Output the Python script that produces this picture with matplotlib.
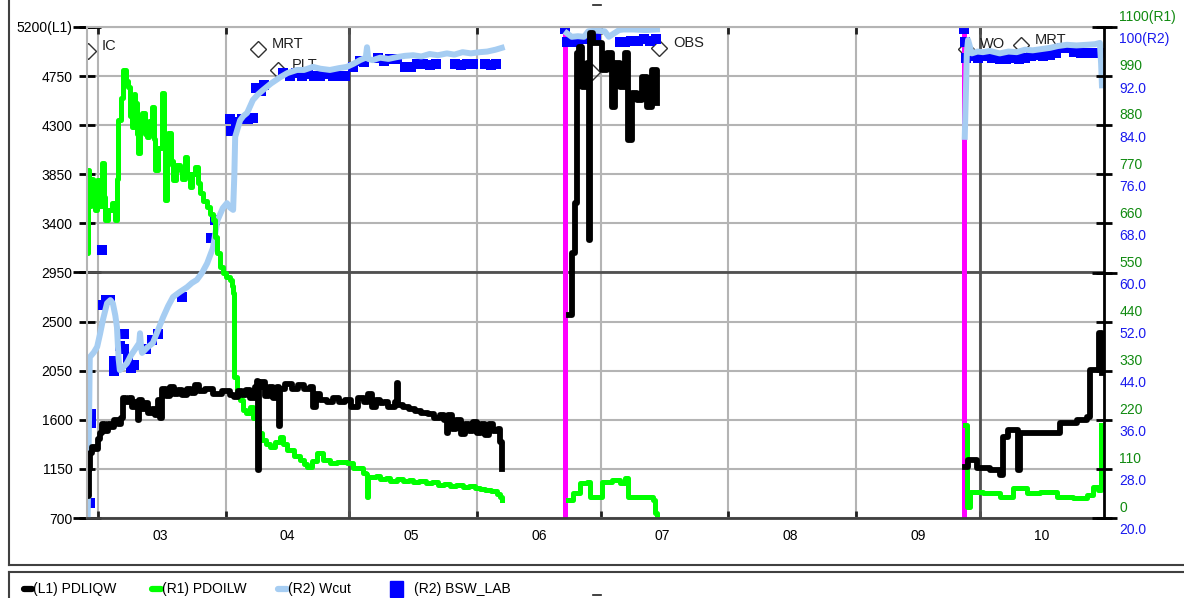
'''
Well history: PDLIQW / PDOILW / Wcut / BSW_LAB on three y scales
'''

import numpy as np
import pandas as pd
import matplotlib
matplotlib.use('Agg')
from matplotlib import pyplot as plt
from matplotlib import dates as mdates
from matplotlib import ticker
from matplotlib.lines import Line2D
from matplotlib.patches import Rectangle
from matplotlib.transforms import blended_transform_factory

W, H = 1184, 598
START = pd.Timestamp('2009-03-01')   # all "days" below count from 01 March
X_FROM, X_TO = -2.67, 244.2

# (L1) PDLIQW, one list per producing period
liq_days = [
    [-2.6, -2.3, -2.0, -1.5, -0.8, 0.0, 0.5, 1.0, 1.8, 2.5, 3.2, 4.0, 4.8, 5.5, 6.0,
     6.8, 7.5, 8.2, 9.0, 9.6, 10.0, 10.8, 11.5, 12.2, 13.0, 13.8, 14.5, 15.0, 15.6,
     16.5, 17.5, 18.5, 19.5, 20.5, 21.5, 22.5, 23.5, 24.5, 26.0, 28.0, 30.0, 32.0,
     33.0, 34.0, 35.0, 36.0, 37.0, 38.0, 38.6, 38.8, 39.0, 39.6, 40.5, 41.5, 42.5,
     43.5, 44.0, 44.3, 45.5, 47.0, 48.5, 50.0, 51.5, 52.3, 52.8, 54.0, 55.5, 57.0,
     58.5, 60.0, 61.5, 63.0, 64.5, 65.5, 66.5, 67.5, 68.4, 69.5, 70.5, 72.0, 72.6,
     72.9, 74.0, 75.5, 77.0, 78.5, 80.0, 81.5, 83.0, 84.0, 84.6, 85.0, 86.0, 87.0,
     88.0, 89.0, 90.0, 91.0, 92.0, 93.0, 94.0, 95.0, 96.0, 97.2, 97.6, 98.0],
    [114.3, 115.0, 115.8, 116.3, 116.7, 117.5, 118.7, 119.2, 119.4, 120.1, 122.3,
     123.5, 124.8, 125.5, 126.7, 127.9, 128.6, 129.6, 130.8, 132.0, 133.3, 134.5,
     135.7],
    [210.4, 211.2, 213.3, 216.5, 218.9, 219.7, 220.9, 222.6, 223.3, 223.8, 226.9,
     231.1, 233.5, 237.6, 240.0, 240.8, 242.5, 243.0, 243.7, 243.8],
]
liq_vals = [
    [900, 1150, 1300, 1350, 1330, 1420, 1480, 1560, 1500, 1560, 1530, 1600, 1560,
     1620, 1800, 1760, 1800, 1720, 1760, 1600, 1780, 1700, 1750, 1660, 1700, 1640,
     1780, 1620, 1880, 1820, 1900, 1840, 1870, 1830, 1880, 1850, 1920, 1860, 1880,
     1840, 1860, 1830, 1810, 1860, 1830, 1870, 1800, 1900, 1960, 1140, 1900, 1950,
     1820, 1900, 1800, 1900, 1540, 1880, 1930, 1880, 1920, 1880, 1900, 1720, 1840,
     1780, 1760, 1800, 1760, 1780, 1720, 1800, 1760, 1840, 1720, 1780, 1750, 1760,
     1720, 1760, 1940, 1740, 1720, 1700, 1680, 1660, 1650, 1620, 1640, 1600, 1480,
     1640, 1520, 1600, 1470, 1560, 1500, 1580, 1480, 1560, 1460, 1560, 1500, 1520,
     1400, 1150],
    [2560, 3130, 3587, 4962, 5017, 4650, 4870, 3248, 5145, 5053, 4806, 4962, 4467,
     4870, 4650, 4962, 4164, 4595, 4531, 4742, 4467, 4806, 4500],
    [1167, 1232, 1158, 1140, 1094, 1442, 1506, 1506, 1140, 1479, 1479, 1479, 1570,
     1598, 1626, 2056, 2056, 2396, 2396, 2029],
]

# (R1) PDOILW
oil_days = [
    [-2.7, -2.5, -2.1, -1.6, -1.2, -0.8, -0.2, 0.3, 1.0, 1.4, 1.7, 2.5, 3.4, 4.1,
     4.5, 4.9, 5.5, 6.1, 6.7, 7.3, 7.8, 8.3, 8.7, 9.0, 9.4, 9.7, 10.2, 10.7, 11.3,
     11.9, 12.5, 13.1, 13.5, 13.8, 14.5, 15.5, 15.9, 16.3, 16.7, 17.0, 17.6, 18.2,
     19.0, 19.9, 20.5, 21.1, 21.7, 22.3, 22.9, 23.5, 24.2, 24.8, 25.6, 26.5, 27.2,
     27.9, 28.4, 28.9, 29.6, 30.3, 31.0, 32.0, 32.5, 32.8, 32.9, 33.7, 34.4, 35.2,
     36.0, 36.9, 37.7, 38.6, 39.2, 39.8, 40.7, 41.7, 43.0, 44.2, 45.0, 45.9, 47.5,
     49.0, 50.0, 50.7, 52.0, 53.2, 54.5, 56.3, 58.0, 60.4, 62.0, 64.3, 65.0, 65.3,
     65.6, 66.0, 67.5, 68.5, 70.0, 71.0, 72.6, 74.0, 75.5, 76.5, 78.0, 79.5, 81.0,
     82.5, 84.0, 85.5, 87.0, 88.5, 90.0, 91.5, 92.7, 94.0, 95.5, 96.8, 97.6, 98.0],
    [114.1, 115.3, 117.0, 118.7, 119.4, 121.4, 122.3, 124.8, 126.7, 127.9, 128.6,
     131.6, 134.7, 135.2, 135.7],
    [210.4, 210.9, 211.7, 214.8, 218.9, 222.1, 225.5, 228.6, 232.8, 236.7, 240.0,
     241.5, 242.7, 243.4, 243.5],
]
oil_vals = [
    [594, 780, 700, 760, 728, 690, 757, 700, 795, 720, 667, 690, 706, 667, 760, 892,
     940, 1004, 980, 966, 900, 876, 950, 930, 860, 818, 880, 907, 860, 853, 890, 921,
     850, 780, 830, 952, 850, 712, 790, 862, 800, 757, 790, 780, 760, 809, 770, 742,
     770, 786, 750, 728, 710, 697, 680, 667, 630, 594, 562, 549, 540, 533, 520, 504,
     316, 280, 265, 242, 235, 249, 225, 204, 190, 175, 165, 159, 170, 181, 165, 152,
     140, 130, 122, 114, 128, 146, 130, 123, 126, 123, 112, 101, 98, 47, 92, 92, 95,
     88, 90, 84, 88, 82, 86, 81, 83, 78, 80, 75, 77, 72, 74, 70, 71, 67, 65, 62, 60,
     54, 48, 40],
    [40, 56, 78, 81, 47, 47, 81, 85, 78, 90, 47, 47, 40, 11, 0],
    [208, 25, 58, 56, 47, 67, 56, 58, 47, 45, 52, 69, 63, 69, 208],
]

# (R2) Wcut
wcut_days = [
    [-2.5, -2.3, -2.1, -2.0, -1.0, -0.2, 0.5, 1.2, 2.2, 3.0, 3.6, 4.2, 4.6, 5.0, 5.3,
     6.0, 7.0, 8.0, 9.0, 10.0, 10.2, 10.5, 10.7, 12.0, 13.3, 14.5, 15.8, 17.0, 18.2,
     19.8, 21.6, 22.8, 24.0, 25.3, 26.5, 27.9, 29.0, 30.3, 31.3, 32.0, 32.8, 33.1,
     33.3, 34.5, 35.3, 36.2, 37.6, 38.8, 40.0, 42.0, 44.2, 46.0, 48.3, 50.0, 52.2,
     54.0, 56.3, 58.5, 60.4, 62.0, 63.6, 65.0, 65.3, 65.6, 66.7, 68.5, 70.5, 72.6,
     74.5, 76.5, 78.5, 80.5, 82.5, 84.7, 86.5, 88.5, 90.5, 92.7, 94.5, 96.5, 98.0],
    [113.8, 115.0, 116.5, 118.0, 119.0, 121.0, 123.0, 124.0, 126.5, 127.5, 130.0,
     133.0, 135.7],
    [210.4, 210.7, 210.9, 211.2, 212.1, 213.5, 214.8, 216.5, 218.9, 221.0, 223.0,
     225.0, 226.9, 229.0, 231.1, 233.0, 235.2, 237.5, 240.0, 242.0, 243.2, 243.5,
     243.7],
]
wcut_vals = [
    [20.5, 30, 40, 46.2, 47.0, 47.9, 50, 52.3, 55.0, 55.5, 55.0, 53, 51.1, 46, 44.1,
     44.5, 45.2, 46.5, 47.5, 48.5, 50.1, 47.5, 46.9, 47.8, 48.5, 50.5, 52.7, 54.5,
     56.0, 56.8, 57.6, 58.3, 58.8, 60.0, 61.5, 64.0, 68.5, 70.5, 71.3, 70.6, 70.2,
     76, 82.1, 84.8, 85.5, 86.0, 88.1, 89.0, 89.7, 90.8, 91.8, 92.5, 93.0, 93.0,
     93.5, 93.2, 93.0, 93.3, 93.5, 94.0, 94.6, 95.0, 96.7, 94.8, 94.6, 95.0, 94.8,
     95.1, 95.3, 95.4, 95.2, 95.6, 95.4, 95.7, 95.5, 95.9, 95.7, 95.9, 96.0, 96.3,
     96.6],
    [99.0, 98.4, 98.5, 98.4, 99.3, 99.4, 99.3, 98.4, 99.5, 99.6, 99.6, 99.5, 99.6],
    [82.1, 90, 95.8, 97.9, 95.7, 96.0, 95.9, 96.1, 95.7, 96.0, 95.9, 96.3, 96.2,
     96.4, 96.6, 96.9, 97.1, 97.0, 97.1, 97.2, 97.4, 94, 90.5],
]

# (R2) BSW_LAB lab samples
bsw_days = [
    [-1.9, -1.7, -1.7, 1.0, 1.2, 1.9, 2.9, 3.9, 3.9, 5.3, 6.3, 6.3, 7.3, 8.0, 8.8,
     11.7, 13.1, 14.6, 20.4, 27.4, 28.4, 32.0, 32.2, 33.5, 35.0, 36.4, 37.6, 38.3,
     39.6, 40.2, 45.0, 46.5, 48.0, 49.5, 51.0, 52.5, 54.0, 55.5, 57.0, 58.5, 60.0,
     62.0, 63.5, 64.5, 68.0, 69.5, 71.0, 72.5, 74.5, 76.0, 77.5, 79.0, 80.5, 82.0,
     86.7, 88.0, 89.5, 91.0, 94.0, 95.5, 96.5],
    [113.4, 113.8, 115.0, 116.5, 118.0, 119.5, 121.0, 126.7, 128.0, 129.5, 131.0,
     132.5, 134.0, 135.5],
    [210.2, 210.5, 210.6, 212.0, 213.5, 215.0, 217.0, 219.0, 220.5, 222.0, 223.5,
     225.0, 226.5, 228.0, 229.5, 231.0, 232.5, 234.0, 235.5, 237.0, 238.5, 240.0,
     241.5, 243.0],
]
bsw_vals = [
    [22.4, 35.5, 37, 63.7, 54.7, 55.5, 55.5, 45.5, 44, 48, 50, 47.5, 46, 44.5, 45,
     47.5, 49, 50, 56, 65.7, 68.5, 85, 83, 84.5, 85, 85, 85.2, 90, 89.5, 90.5, 92.5,
     92.0, 92.5, 92.0, 92.3, 92.0, 92.0, 92.3, 92.0, 92.0, 92.0, 93.5, 94.5, 94.3,
     95.0, 94.5, 94.8, 94.8, 93.5, 93.5, 94.0, 94.0, 93.8, 94.0, 94.0, 93.8, 94.0,
     94.0, 94.0, 93.8, 94.0],
    [99.6, 97.5, 97.5, 97.8, 98.0, 98.0, 98.5, 97.5, 97.5, 97.8, 97.8, 98.0, 97.8,
     98.0],
    [99.6, 97.5, 95.0, 95.3, 95.0, 95.2, 95.0, 94.8, 94.8, 95.0, 94.8, 95.0, 95.3,
     95.5, 95.3, 95.5, 95.8, 96.5, 96.5, 96.0, 95.8, 95.8, 95.8, 95.8],
]

# well status change lines
status_days = [113.3, 210.1]

# event flags (day, L1 height, name)
event_days = [-2.5, 38.8, 43.7, 119.9, 136.2, 210.7, 224.0]
event_y = [4980, 4998, 4806, 4788, 5008, 4998, 5035]
event_names = ['IC', 'MRT', 'PLT', 'PLT', 'OBS', 'WO', 'MRT']

l1_ticks = [700, 1150, 1600, 2050, 2500, 2950, 3400, 3850, 4300, 4750, 5200]
l1_labels = ['700', '1150', '1600', '2050', '2500', '2950', '3400', '3850',
             '4300', '4750', '5200(L1)']
r1_ticks = [0, 110, 220, 330, 440, 550, 660, 770, 880, 990, 1100]
r1_labels = ['0', '110', '220', '330', '440', '550', '660', '770', '880', '990',
             '1100(R1)']
r2_ticks = [20, 28, 36, 44, 52, 60, 68, 76, 84, 92, 100]
r2_labels = ['20.0', '28.0', '36.0', '44.0', '52.0', '60.0', '68.0', '76.0',
             '84.0', '92.0', '100(R2)']

legend_names = ['(L1) PDLIQW', '(R1) PDOILW', '(R2) Wcut', '(R2) BSW_LAB']

GRID = '#b4b4b4'
DARK = '#505050'


def to_dates(days):
    return START + pd.to_timedelta(np.asarray(days, dtype=float), unit='D')


def fpos(x, y):
    # pixel position (from top-left) to figure fraction
    return x / W, 1 - y / H


def fig_line(fig, xs, ys, **kw):
    pts = [fpos(x, y) for x, y in zip(xs, ys)]
    fig.add_artist(Line2D([p[0] for p in pts], [p[1] for p in pts],
                          transform=fig.transFigure, **kw))


def setup_axes(fig):
    x0, y0 = fpos(87, 518)
    x1, y1 = fpos(1104, 27)
    ax = fig.add_axes([x0, y0, x1 - x0, y1 - y0])
    ax_r1 = ax.twinx()
    ax_r2 = ax.twinx()

    ax.set_xlim(START + pd.Timedelta(days=X_FROM), START + pd.Timedelta(days=X_TO))
    ax.xaxis.set_major_locator(mdates.MonthLocator())
    ax.xaxis.set_major_formatter(ticker.NullFormatter())
    ax.xaxis.set_minor_locator(mdates.MonthLocator(bymonthday=16))
    ax.xaxis.set_minor_formatter(mdates.DateFormatter('%m'))
    ax.tick_params(axis='x', which='major', direction='in', length=5, width=2,
                   color='#202020', top=True, bottom=True)
    ax.tick_params(axis='x', which='minor', length=0, pad=8, labelsize=10)

    ax.set_ylim(700, 5200)
    ax.set_yticks(l1_ticks)
    ax.set_yticklabels(l1_labels)
    ax.set_yticks([700, 2950, 5200], minor=True)
    ax.yaxis.remove_overlapping_locs = False
    ax.tick_params(axis='y', which='major', direction='inout', length=11, width=2,
                   color='black', pad=5, labelsize=10)
    ax.tick_params(axis='y', which='minor', direction='inout', length=20, width=2,
                   color='black')
    ax.grid(True, which='major', color=GRID, lw=1.5)
    ax.set_axisbelow(True)
    ax.axhline(2950, color=DARK, lw=2, zorder=0.8)
    for m in ['2009-05-01', '2009-10-01']:
        ax.axvline(pd.Timestamp(m), color=DARK, lw=2, zorder=0.8)
    ax.spines['left'].set_color(GRID)
    ax.spines['left'].set_linewidth(1.5)
    ax.spines['top'].set_color(GRID)
    ax.spines['top'].set_linewidth(1.5)
    ax.spines['bottom'].set_color('#404040')
    ax.spines['bottom'].set_linewidth(2)
    ax.spines['right'].set_visible(False)

    ax_r1.set_ylim(0, 1100)
    ax_r1.set_yticks(r1_ticks)
    ax_r1.set_yticklabels([])
    ax_r1.set_yticks([0, 550, 1100], minor=True)
    ax_r1.yaxis.remove_overlapping_locs = False
    ax_r1.tick_params(axis='y', which='major', direction='inout', length=11,
                      width=2, color='black')
    ax_r1.tick_params(axis='y', which='minor', direction='inout', length=18,
                      width=2, color='black')
    for s in ['left', 'top', 'bottom']:
        ax_r1.spines[s].set_visible(False)
    ax_r1.spines['right'].set_color('black')
    ax_r1.spines['right'].set_linewidth(2)

    ax_r2.set_ylim(20, 100)
    ax_r2.axis('off')

    tr1 = blended_transform_factory(ax_r1.transAxes, ax_r1.transData)
    tr2 = blended_transform_factory(ax_r2.transAxes, ax_r2.transData)
    for v, lbl in zip(r1_ticks, r1_labels):
        ax_r1.annotate(lbl, xy=(1, v), xycoords=tr1, xytext=(11, 7),
                       textcoords='offset points', va='center', ha='left',
                       color='#108a10', fontsize=10, annotation_clip=False)
    for v, lbl in zip(r2_ticks, r2_labels):
        ax_r2.annotate(lbl, xy=(1, v), xycoords=tr2, xytext=(11, -9),
                       textcoords='offset points', va='center', ha='left',
                       color='#1a1aee', fontsize=10, annotation_clip=False)
    return ax, ax_r1, ax_r2


def draw_series(ax, ax_r1, ax_r2):
    for d in status_days:
        ax.axvline(START + pd.Timedelta(days=d), color='#ff00ff', lw=3.6,
                   zorder=1.5)

    ev = to_dates(event_days)
    ax.plot(ev, event_y, 'D', ms=8.5, mfc='none', mec='#303030', mew=1,
            zorder=1.3)
    for dt, y, name in zip(ev, event_y, event_names):
        ax.annotate(name, xy=(dt, y), xytext=(10, 3.5), textcoords='offset points',
                    va='center', ha='left', fontsize=10.5, color='#202020',
                    zorder=1.2)

    # everything on the main axes so the stacking order is kept,
    # R1/R2 values go through the twin axes' scales
    for d, v in zip(bsw_days, bsw_vals):
        ax.plot(to_dates(d), v, 's', ms=7, mew=0, color='#0000ff',
                transform=ax_r2.transData, zorder=2.0)
    for d, v in zip(wcut_days, wcut_vals):
        ax.plot(to_dates(d), v, color='#a6cdf2', lw=4.3,
                transform=ax_r2.transData, zorder=2.1)
    for d, v in zip(oil_days, oil_vals):
        ax.plot(to_dates(d), v, color='#00ff00', lw=3.6, drawstyle='steps-post',
                transform=ax_r1.transData, zorder=2.2)
    for d, v in zip(liq_days, liq_vals):
        ax.plot(to_dates(d), v, color='black', lw=4.2, drawstyle='steps-post',
                zorder=2.3)

    ax.set_ylim(700, 5200)
    ax_r1.set_ylim(0, 1100)
    ax_r2.set_ylim(20, 100)


def draw_frame_and_legend(fig):
    fig_line(fig, [8.5, 8.5], [0, 565], color='#404040', lw=1.5)
    fig_line(fig, [8.5, W], [565, 565], color='#404040', lw=1.5)
    fig_line(fig, [8.5, W], [572, 572], color='#404040', lw=1.5)
    fig_line(fig, [8.5, 8.5], [572, H], color='#404040', lw=1.5)
    fig_line(fig, [593, 601], [5, 5], color='#202020', lw=1.2)
    fig_line(fig, [593, 601], [595, 595], color='#202020', lw=1.2)

    y = 589
    fig_line(fig, [24, 32], [y, y], color='black', lw=4.5, solid_capstyle='round')
    fig_line(fig, [152, 161], [y, y], color='#00ff00', lw=4.5,
             solid_capstyle='round')
    fig_line(fig, [278, 287], [y, y], color='#a6cdf2', lw=4.5,
             solid_capstyle='round')
    x0, y0 = fpos(390, 597)
    x1, y1 = fpos(403, 581)
    fig.add_artist(Rectangle((x0, y0), x1 - x0, y1 - y0, color='#0000ff',
                             transform=fig.transFigure))
    for x, name in zip([33, 162, 288, 414], legend_names):
        tx, ty = fpos(x, y)
        fig.text(tx, ty, name, va='center', ha='left', fontsize=10)


def create_chart():
    plt.rcParams['font.family'] = ['Liberation Sans', 'DejaVu Sans']
    plt.rcParams['font.size'] = 10
    fig = plt.figure(figsize=(W / 100, H / 100), dpi=100)
    ax, ax_r1, ax_r2 = setup_axes(fig)
    draw_series(ax, ax_r1, ax_r2)
    draw_frame_and_legend(fig)
    fig.savefig('out.png', dpi=100)


if __name__ == '__main__':
    create_chart()
